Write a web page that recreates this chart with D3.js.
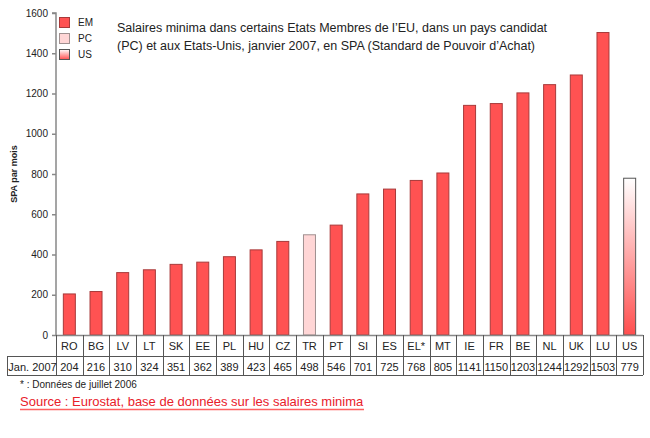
<!DOCTYPE html>
<html><head><meta charset="utf-8">
<script src="https://cdn.jsdelivr.net/npm/d3@7"></script>
<style>body{margin:0;background:#fff}svg{display:block;font-family:Arial,"Liberation Sans",sans-serif}</style>
</head><body><svg id="c" width="650" height="438"></svg>
<script>
const categories=["RO","BG","LV","LT","SK","EE","PL","HU","CZ","TR","PT","SI","ES","EL*","MT","IE","FR","BE","NL","UK","LU","US"];
const values=[204,216,310,324,351,362,389,423,465,498,546,701,725,768,805,1141,1150,1203,1244,1292,1503,779];
const groups=["EM","EM","EM","EM","EM","EM","EM","EM","EM","PC","EM","EM","EM","EM","EM","EM","EM","EM","EM","EM","EM","US"];
const yTicks=[0,200,400,600,800,1000,1200,1400,1600];
const legendItems=["EM","PC","US"];
const rowLabel="Jan. 2007";
const titleLines=["Salaires minima dans certains Etats Membres de l’EU, dans un pays candidat","(PC) et aux Etats-Unis, janvier 2007, en SPA (Standard de Pouvoir d’Achat)"];

const svg=d3.select("#c");
const defs=svg.append("defs");
const grad=defs.append("linearGradient").attr("id","usg").attr("x1",0).attr("y1",0).attr("x2",0).attr("y2",1);
grad.append("stop").attr("offset","0%").attr("stop-color","#ffffff");
grad.append("stop").attr("offset","100%").attr("stop-color","#ff4e4e");

const pLeft=56,pRight=643,pTop=13,pBottom=335;
const x=d3.scaleBand().domain(categories).range([pLeft,pRight]);
const y=d3.scaleLinear().domain([0,1600]).range([pBottom,pTop]);
const fills={EM:"#ff5252",PC:"#ffd6d6",US:"url(#usg)"};
const strokes={EM:"#a83a3a",PC:"#a09090",US:"#555"};

// bars
const bw=12;
svg.append("g").selectAll("rect").data(categories).join("rect")
 .attr("x",d=>x(d)+x.bandwidth()/2-bw/2)
 .attr("y",(d,i)=>y(values[i]))
 .attr("width",bw)
 .attr("height",(d,i)=>pBottom-y(values[i]))
 .attr("fill",(d,i)=>fills[groups[i]])
 .attr("stroke",(d,i)=>strokes[groups[i]])
 .attr("stroke-width",1);

// y axis
const ax=svg.append("g").attr("transform",`translate(${pLeft},0)`)
 .call(d3.axisLeft(y).tickValues(yTicks).tickSize(4).tickPadding(4).tickFormat(d3.format("d")));
ax.selectAll("path,line").attr("stroke","#888").attr("stroke-width",1.5);
ax.select(".domain").attr("d",`M-4,${pTop}H0V${pBottom}`);
ax.selectAll("text").attr("font-size",10).attr("fill","#222").attr("font-family","Arial");

svg.append("text").attr("transform","translate(17,174) rotate(-90)")
 .attr("text-anchor","middle").attr("font-size",9).attr("font-weight","bold").attr("fill","#222").text("SPA par mois");

// table
const r1=pBottom,r2=356,r3=375;
const tg=svg.append("g").attr("stroke","#555").attr("stroke-width",1).attr("fill","none");
tg.append("line").attr("x1",pLeft).attr("x2",pRight).attr("y1",r1+0.5).attr("y2",r1+0.5).attr("stroke","#888").attr("stroke-width",1.5);
tg.append("line").attr("x1",7).attr("x2",pRight).attr("y1",r2+0.5).attr("y2",r2+0.5);
tg.append("line").attr("x1",7).attr("x2",pRight).attr("y1",r3+0.5).attr("y2",r3+0.5);
tg.append("line").attr("x1",7.5).attr("x2",7.5).attr("y1",r2).attr("y2",r3);
const edges=categories.map(c=>x(c)).concat([pRight]);
tg.selectAll("line.v").data(edges).join("line").attr("class","v")
 .attr("x1",d=>Math.round(d)+0.5).attr("x2",d=>Math.round(d)+0.5).attr("y1",r1).attr("y2",r3);

const tt=svg.append("g").attr("font-size",11).attr("fill","#222").attr("text-anchor","middle");
tt.selectAll("text.c").data(categories).join("text").attr("class","c")
 .attr("x",d=>x(d)+x.bandwidth()/2).attr("y",r1+15).text(d=>d);
tt.selectAll("text.v").data(values).join("text").attr("class","v")
 .attr("x",(d,i)=>x(categories[i])+x.bandwidth()/2).attr("y",r2+15).text(d=>d);
tt.append("text").attr("x",(7+pLeft)/2+1).attr("y",r2+15).text(rowLabel);

// legend
const lg=svg.append("g");
legendItems.forEach((k,i)=>{
  const yy=17+i*16;
  lg.append("rect").attr("x",59.5).attr("y",yy+0.5).attr("width",10).attr("height",10)
   .attr("fill",fills[k]).attr("stroke",strokes[k]);
  lg.append("text").attr("x",78).attr("y",yy+9).attr("font-size",10).attr("fill","#222").text(k);
});

// title
svg.append("g").selectAll("text").data(titleLines).join("text")
 .attr("x",117).attr("y",(d,i)=>32+i*18).attr("font-size",12.5).attr("fill","#222").text(d=>d);

// footnotes
svg.append("text").attr("x",20).attr("y",388).attr("font-size",10).attr("fill","#222").text("* : Données de juillet 2006");
const src=svg.append("text").attr("x",20).attr("y",406).attr("font-size",13).attr("fill","#e8202a").text("Source : Eurostat, base de données sur les salaires minima");
const bb=src.node().getBBox();
svg.append("line").attr("x1",bb.x).attr("x2",bb.x+bb.width).attr("y1",409.5).attr("y2",409.5).attr("stroke","#ff6060").attr("stroke-width",1.5);
</script></body></html>
